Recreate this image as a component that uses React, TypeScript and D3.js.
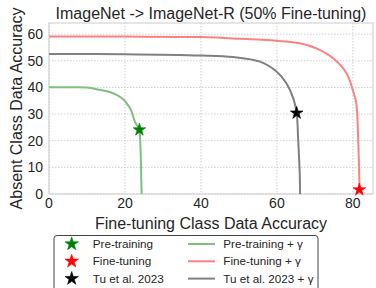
import * as d3 from 'd3';

const W = 376;
const H = 288;
const M = { top: 23, right: 3, bottom: 94, left: 49 };

const xTicks = [0, 20, 40, 60, 80];
const yTicks = [0, 10, 20, 30, 40, 50, 60];

// curves (accuracy on fine-tuning classes vs absent classes)
const preX = [0, 5, 10, 13.4, 16, 17.8, 19.5, 20.4, 21.6, 22.6, 23.3, 23.8, 24.0, 24.2, 24.3, 24.4];
const preY = [40.1, 40.1, 40.0, 39.1, 38.3, 37.2, 35.6, 34.1, 31.5, 27.2, 25.5, 24.1, 20.4, 12, 5, 0];
const ftX = [0, 20, 40, 48.5, 55, 59.9, 66, 70.4, 74.8, 78.3, 80, 80.9, 81.4, 81.7, 81.8];
const ftY = [59.1, 59.1, 58.9, 58.4, 58, 57.5, 56.6, 54.7, 51, 45.4, 39, 34.1, 20.4, 6, 1.6];
const tuX = [0, 20, 40, 48.5, 55.5, 59.9, 62.5, 64.3, 65.2, 65.6, 66.0, 66.1];
const tuY = [52.6, 52.5, 52.0, 51.4, 49.7, 46.0, 41.6, 36, 30.4, 20.4, 8, 0];

// stars
const starNames = ['Pre-training', 'Fine-tuning', 'Tu et al. 2023'];
const starX = [23.8, 81.7, 65.2];
const starY = [24.1, 1.6, 30.4];
const starColors = ['#008000', '#ff0000', '#000000'];
const lineNames = ['Pre-training + γ', 'Fine-tuning + γ', 'Tu et al. 2023 + γ'];
const lineColors = ['#80bf80', '#ff8080', '#808080'];

const FONT = '"Liberation Sans", Arial, sans-serif';
const TXT = '#262626';

export default function App() {
  const bw = W - M.left - M.right;
  const bh = H - M.top - M.bottom;
  const x = d3.scaleLinear().domain([0, 85.3]).range([0, bw]);
  const y = d3.scaleLinear().domain([0, 64.2]).range([bh, 0]);

  const line = d3
    .line<[number, number]>()
    .x((d) => x(d[0]))
    .y((d) => y(d[1]))
    .curve(d3.curveCatmullRom.alpha(0.5));

  const series = [
    preX.map((v, i) => [v, preY[i]] as [number, number]),
    ftX.map((v, i) => [v, ftY[i]] as [number, number]),
    tuX.map((v, i) => [v, tuY[i]] as [number, number]),
  ];

  const star = d3.symbol(d3.symbolStar, 50)() || '';
  const starLg = d3.symbol(d3.symbolStar, 56)() || '';

  return (
    <svg
      width={W}
      height={H}
      style={{ position: 'absolute', left: 0, top: 0, fontFamily: FONT }}
    >
      <rect width={W} height={H} fill="#fff" />
      <text x={M.left + bw / 2} y={19} textAnchor="middle" fontSize={16} fill={TXT}>
        ImageNet -&gt; ImageNet-R (50% Fine-tuning)
      </text>
      <g transform={`translate(${M.left},${M.top})`}>
        {xTicks.map((t) => (
          <line key={'gx' + t} x1={x(t)} x2={x(t)} y1={0} y2={bh} stroke="#c8c8c8" strokeWidth={0.9} strokeDasharray="1.5,1.5" />
        ))}
        {yTicks.map((t) => (
          <line key={'gy' + t} x1={0} x2={bw} y1={y(t)} y2={y(t)} stroke="#c8c8c8" strokeWidth={0.9} strokeDasharray="1.5,1.5" />
        ))}
        <rect width={bw} height={bh} fill="none" stroke="#cccccc" strokeWidth={1} />
        {series.map((s, i) => (
          <path key={'l' + i} d={line(s) || ''} fill="none" stroke={lineColors[i]} strokeWidth={2} />
        ))}
        {starX.map((v, i) => (
          <path
            key={'s' + i}
            d={star}
            transform={`translate(${x(v)},${y(starY[i])})`}
            fill={starColors[i]}
            stroke={starColors[i]}
            strokeWidth={0.6}
            strokeLinejoin="round"
          />
        ))}
        {xTicks.map((t) => (
          <text key={'tx' + t} x={x(t)} y={bh + 14} textAnchor="middle" fontSize={14} fill={TXT}>
            {t}
          </text>
        ))}
        {yTicks.map((t) => (
          <text key={'ty' + t} x={-6} y={y(t) + 5} textAnchor="end" fontSize={14} fill={TXT}>
            {t}
          </text>
        ))}
      </g>
      <text x={M.left + bw / 2} y={229} textAnchor="middle" fontSize={16} fill={TXT}>
        Fine-tuning Class Data Accuracy
      </text>
      <text
        transform={`translate(22,${M.top + bh / 2}) rotate(-90)`}
        textAnchor="middle"
        fontSize={16}
        fill={TXT}
      >
        Absent Class Data Accuracy
      </text>
      <g>
        <rect x={54} y={235.5} width={264} height={70} rx={3} fill="#fff" stroke="#444" strokeWidth={1} />
        {starNames.map((n, i) => (
          <g key={'lg' + i} transform={`translate(0,${244 + i * 17.3})`}>
            <path
              d={starLg}
              transform="translate(71.7,0)"
              fill={starColors[i]}
              stroke={starColors[i]}
              strokeWidth={0.6}
              strokeLinejoin="round"
            />
            <text x={92.7} y={4} fontSize={11.7} fill={TXT}>
              {n}
            </text>
            <line x1={188} x2={215} y1={0} y2={0} stroke={lineColors[i]} strokeWidth={2} />
            <text x={223.3} y={4} fontSize={11.7} fill={TXT}>
              {lineNames[i]}
            </text>
          </g>
        ))}
      </g>
    </svg>
  );
}
